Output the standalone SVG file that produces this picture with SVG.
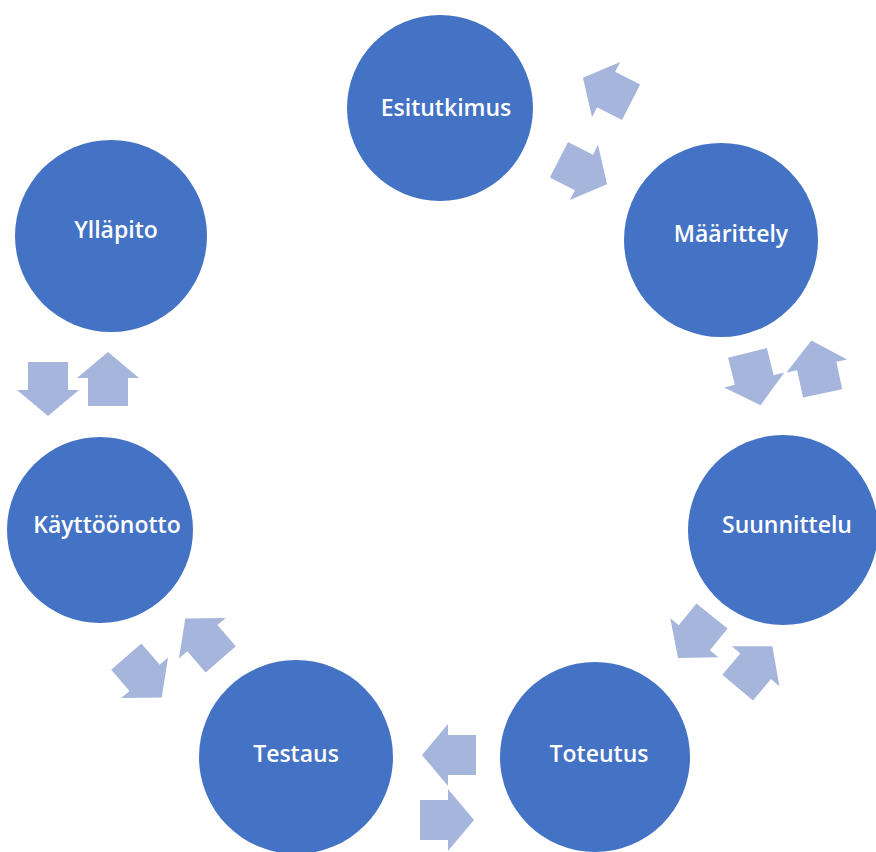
<svg xmlns="http://www.w3.org/2000/svg" width="876" height="852" viewBox="0 0 876 852">
  <style>
    .phase { fill: #4472C4; }
    .label { fill: #FFFFFF; font-family: "Open Sans", "Liberation Sans", sans-serif; font-size: 23px; font-weight: 600; text-anchor: middle; }
    .flow { fill: #A6B5DC; }
  </style>
  <defs>
    <!-- block arrow pointing along +x, centred on the origin -->
    <path id="blockArrow" d="M-27,-20 H1 V-31 L27,0 L1,31 V20 H-27 Z"/>
  </defs>
  <rect width="876" height="852" fill="#FFFFFF"/>

  <g id="connectors">
    <!-- Esitutkimus / Määrittely -->
    <use href="#blockArrow" class="flow" transform="translate(583,172) rotate(27)"/>
    <use href="#blockArrow" class="flow" transform="translate(607,90) rotate(207)"/>
    <!-- Määrittely / Suunnittelu -->
    <use href="#blockArrow" class="flow" transform="translate(754,379) rotate(76)"/>
    <use href="#blockArrow" class="flow" transform="translate(817,367) rotate(258)"/>
    <!-- Suunnittelu / Toteutus -->
    <use href="#blockArrow" class="flow" transform="translate(695,637) rotate(129)"/>
    <use href="#blockArrow" class="flow" transform="translate(755,667) rotate(-50)"/>
    <!-- Toteutus / Testaus -->
    <use href="#blockArrow" class="flow" transform="translate(449,755) rotate(180)"/>
    <use href="#blockArrow" class="flow" transform="translate(447,820)"/>
    <!-- Testaus / Käyttöönotto -->
    <use href="#blockArrow" class="flow" transform="translate(144,677) rotate(49)"/>
    <use href="#blockArrow" class="flow" transform="translate(203,639) rotate(229)"/>
    <!-- Käyttöönotto / Ylläpito -->
    <use href="#blockArrow" class="flow" transform="translate(48,389) rotate(90)"/>
    <use href="#blockArrow" class="flow" transform="translate(108,379) rotate(-90)"/>
  </g>

  <g id="esitutkimus">
    <circle class="phase" cx="440" cy="108" r="93"/>
    <text class="label" x="446" y="116">Esitutkimus</text>
  </g>
  <g id="maarittely">
    <circle class="phase" cx="721" cy="240" r="97"/>
    <text class="label" x="731" y="242">Määrittely</text>
  </g>
  <g id="suunnittelu">
    <circle class="phase" cx="783" cy="530" r="95"/>
    <text class="label" x="787" y="533">Suunnittelu</text>
  </g>
  <g id="toteutus">
    <circle class="phase" cx="595" cy="757" r="95"/>
    <text class="label" x="599" y="762">Toteutus</text>
  </g>
  <g id="testaus">
    <circle class="phase" cx="296" cy="757" r="97"/>
    <text class="label" x="296" y="762">Testaus</text>
  </g>
  <g id="kayttoonotto">
    <circle class="phase" cx="100" cy="530" r="93"/>
    <text class="label" x="107" y="533">Käyttöönotto</text>
  </g>
  <g id="yllapito">
    <circle class="phase" cx="111" cy="236" r="96"/>
    <text class="label" x="116" y="238">Ylläpito</text>
  </g>
</svg>
